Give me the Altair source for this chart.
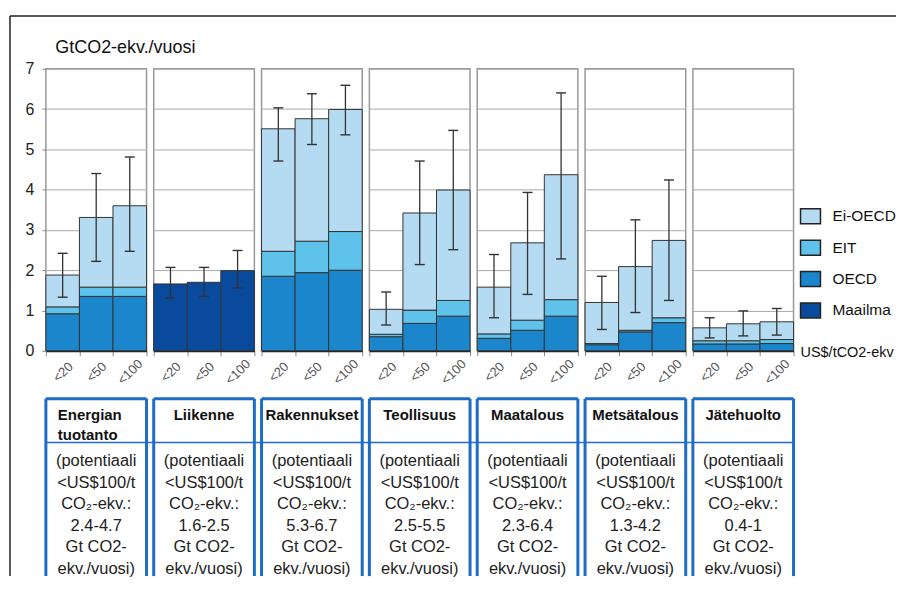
import altair as alt
import pandas as pd

FONT = "Liberation Sans"

sectors = ["Energian tuotanto", "Liikenne", "Rakennukset", "Teollisuus",
           "Maatalous", "Metsätalous", "Jätehuolto"]
titles = ["Energian\ntuotanto", "Liikenne", "Rakennukset", "Teollisuus",
          "Maatalous", "Metsätalous", "Jätehuolto"]
prices = ["<20", "<50", "<100"]
groups = ["Ei-OECD", "EIT", "OECD", "Maailma"]
colors = ["#b5dbf2", "#5ec2ea", "#1b86cb", "#0a4a9c"]

# cumulative tops of each stacked segment (GtCO2-ekv./vuosi), per sector, per price class
oecd_top = [[0.92, 1.35, 1.35], None, [1.85, 1.94, 2.00], [0.35, 0.68, 0.86],
            [0.31, 0.51, 0.86], [0.15, 0.47, 0.70], [0.17, 0.17, 0.18]]
eit_top = [[1.09, 1.58, 1.58], None, [2.47, 2.72, 2.96], [0.41, 1.01, 1.25],
           [0.42, 0.76, 1.27], [0.18, 0.51, 0.82], [0.25, 0.25, 0.28]]
total = [[1.88, 3.31, 3.60], [1.66, 1.70, 1.99], [5.51, 5.76, 5.99], [1.03, 3.42, 3.99],
         [1.58, 2.68, 4.37], [1.20, 2.09, 2.74], [0.57, 0.67, 0.72]]
err_low = [[1.33, 2.22, 2.47], [1.31, 1.35, 1.56], [4.71, 5.12, 5.36], [0.64, 2.14, 2.51],
           [0.82, 1.40, 2.28], [0.53, 0.95, 1.25], [0.32, 0.37, 0.39]]
err_high = [[2.42, 4.40, 4.81], [2.07, 2.07, 2.49], [6.03, 6.38, 6.59], [1.46, 4.71, 5.47],
            [2.39, 3.93, 6.40], [1.85, 3.25, 4.24], [0.82, 0.99, 1.05]]
potential = ["2.4-4.7", "1.6-2.5", "5.3-6.7", "2.5-5.5", "2.3-6.4", "1.3-4.2", "0.4-1"]

# ---- build tables from the arrays ----
seg_rows, err_rows = [], []
for i, s in enumerate(sectors):
    for j, p in enumerate(prices):
        if oecd_top[i] is None:
            seg_rows.append(dict(sector=s, price=p, group="Maailma", y0=0.0, y1=total[i][j]))
        else:
            seg_rows.append(dict(sector=s, price=p, group="OECD", y0=0.0, y1=oecd_top[i][j]))
            seg_rows.append(dict(sector=s, price=p, group="EIT", y0=oecd_top[i][j], y1=eit_top[i][j]))
            seg_rows.append(dict(sector=s, price=p, group="Ei-OECD", y0=eit_top[i][j], y1=total[i][j]))
        err_rows.append(dict(sector=s, price=p, lo=err_low[i][j], hi=err_high[i][j]))
seg_df = pd.DataFrame(seg_rows)
err_df = pd.DataFrame(err_rows)
one = pd.DataFrame({"k": [0]})

W, H = 101, 283
GAP = 7.2
BH = 178
BLUE = "#1f6cc6"

yscale = alt.Scale(domain=[0, 7], nice=False, zero=True)
xscale = alt.Scale(domain=prices, paddingInner=0, paddingOuter=0)
xaxis = alt.Axis(title=None, labelAngle=315, labelAlign="center", labelBaseline="middle",
                 labelPadding=16, labelFontSize=13, labelColor="#555", ticks=True,
                 tickBand="extent", tickSize=5, tickColor="#888", domainColor="#222",
                 domainWidth=2, grid=False)
cscale = alt.Scale(domain=groups, range=colors)


def panel(i):
    s = sectors[i]
    if i == 0:
        yaxis = alt.Axis(title="GtCO2-ekv./vuosi", titleAngle=0, titleX=9, titleY=-16,
                         titleAlign="left", titleBaseline="alphabetic", titleFontSize=18,
                         titleFontWeight="normal", titleColor="#111", values=list(range(8)),
                         labelFontSize=16, labelColor="#222", labelPadding=8, tickSize=4,
                         tickColor="#888", domain=False, gridColor="#aaa", gridWidth=1)
    else:
        yaxis = alt.Axis(title=None, labels=False, ticks=False, domain=False,
                         values=list(range(8)), gridColor="#aaa", gridWidth=1)
    if i == len(sectors) - 1:
        legend = alt.Legend(title=None, orient="none", legendX=107, legendY=137, padding=0,
                            symbolType="M-1,-0.75H1V0.75H-1Z", symbolSize=400,
                            symbolStrokeColor="#222", symbolStrokeWidth=1.5, symbolOpacity=1,
                            labelFontSize=15.5, labelColor="#111", labelOffset=11,
                            rowPadding=9.5, labelFont=FONT)
    else:
        legend = None
    x = alt.X("price:N", scale=xscale, axis=xaxis)
    bars = alt.Chart(seg_df[seg_df.sector == s]).mark_bar(
        stroke="#333", strokeWidth=1, opacity=1).encode(
        x=x,
        y=alt.Y("y0:Q", scale=yscale, axis=yaxis),
        y2="y1:Q",
        color=alt.Color("group:N", scale=cscale, legend=legend),
    )
    edata = err_df[err_df.sector == s]
    stem = alt.Chart(edata).mark_rule(color="#333", strokeWidth=1.3).encode(
        x=x, y=alt.Y("lo:Q", scale=yscale, axis=yaxis), y2="hi:Q")
    cap_lo = alt.Chart(edata).mark_tick(color="#333", size=10, thickness=1.4, opacity=1).encode(
        x=x, y=alt.Y("lo:Q", scale=yscale, axis=yaxis))
    cap_hi = alt.Chart(edata).mark_tick(color="#333", size=10, thickness=1.4, opacity=1).encode(
        x=x, y=alt.Y("hi:Q", scale=yscale, axis=yaxis))
    layers = [bars, stem, cap_lo, cap_hi]
    if i == 0:
        # outer frame (top and left edges)
        layers.append(alt.Chart(one).mark_rule(color="#222", strokeWidth=1.5).encode(
            x=alt.value(-36), x2=alt.value(853), y=alt.value(-53)))
        layers.append(alt.Chart(one).mark_rule(color="#222", strokeWidth=1.5).encode(
            x=alt.value(-36), y=alt.value(-53), y2=alt.value(509)))
    if i == len(sectors) - 1:
        layers.append(alt.Chart(pd.DataFrame({"t": ["US$/tCO2-ekv"]})).mark_text(
            align="left", baseline="middle", fontSize=14.5, font=FONT, color="#111").encode(
            x=alt.value(W + 7), y=alt.value(H + 2), text="t:N"))
    return alt.layer(*layers).properties(width=W, height=H)


def box(i):
    layers = []
    layers.append(alt.Chart(one).mark_rule(color=BLUE, strokeWidth=3).encode(
        x=alt.value(0), y=alt.value(0), y2=alt.value(BH)))
    layers.append(alt.Chart(one).mark_rule(color=BLUE, strokeWidth=3).encode(
        x=alt.value(W), y=alt.value(0), y2=alt.value(BH)))
    layers.append(alt.Chart(one).mark_rule(color=BLUE, strokeWidth=3).encode(
        x=alt.value(0), x2=alt.value(W), y=alt.value(0)))
    x_from = 0 if i == 0 else -GAP / 2
    x_to = W if i == len(sectors) - 1 else W + GAP / 2
    layers.append(alt.Chart(one).mark_rule(color=BLUE, strokeWidth=1.5).encode(
        x=alt.value(x_from), x2=alt.value(x_to), y=alt.value(44)))
    left = i == 0
    layers.append(alt.Chart(pd.DataFrame({"t": [titles[i]]})).mark_text(
        align="left" if left else "center", baseline="top", lineBreak="\n", lineHeight=20,
        fontSize=15, fontWeight="bold", font=FONT, color="#111").encode(
        x=alt.value(12 if left else W / 2), y=alt.value(9.5), text="t:N"))
    desc = "(potentiaali\n<US$100/t\nCO₂-ekv.:\n" + potential[i] + "\nGt CO2-\nekv./vuosi)"
    layers.append(alt.Chart(pd.DataFrame({"t": [desc]})).mark_text(
        align="center", baseline="top", lineBreak="\n", lineHeight=21.5,
        fontSize=16.5, font=FONT, color="#222").encode(
        x=alt.value(W / 2), y=alt.value(55), text="t:N"))
    return alt.layer(*layers).properties(width=W, height=BH,
                                         view=alt.ViewBackground(stroke="transparent"))


cells = [panel(i) for i in range(len(sectors))] + [box(i) for i in range(len(sectors))]

chart = alt.concat(*cells, columns=len(sectors), spacing={"row": 48, "column": GAP},
                   bounds="flush").resolve_legend(color="independent").properties(
    padding={"left": 0, "top": 5, "right": 0, "bottom": 0},
    background="white",
).configure(font=FONT).configure_view(stroke="#999", strokeWidth=1.5)

chart.save("out.html", embed_options={"renderer": "svg", "actions": False})
